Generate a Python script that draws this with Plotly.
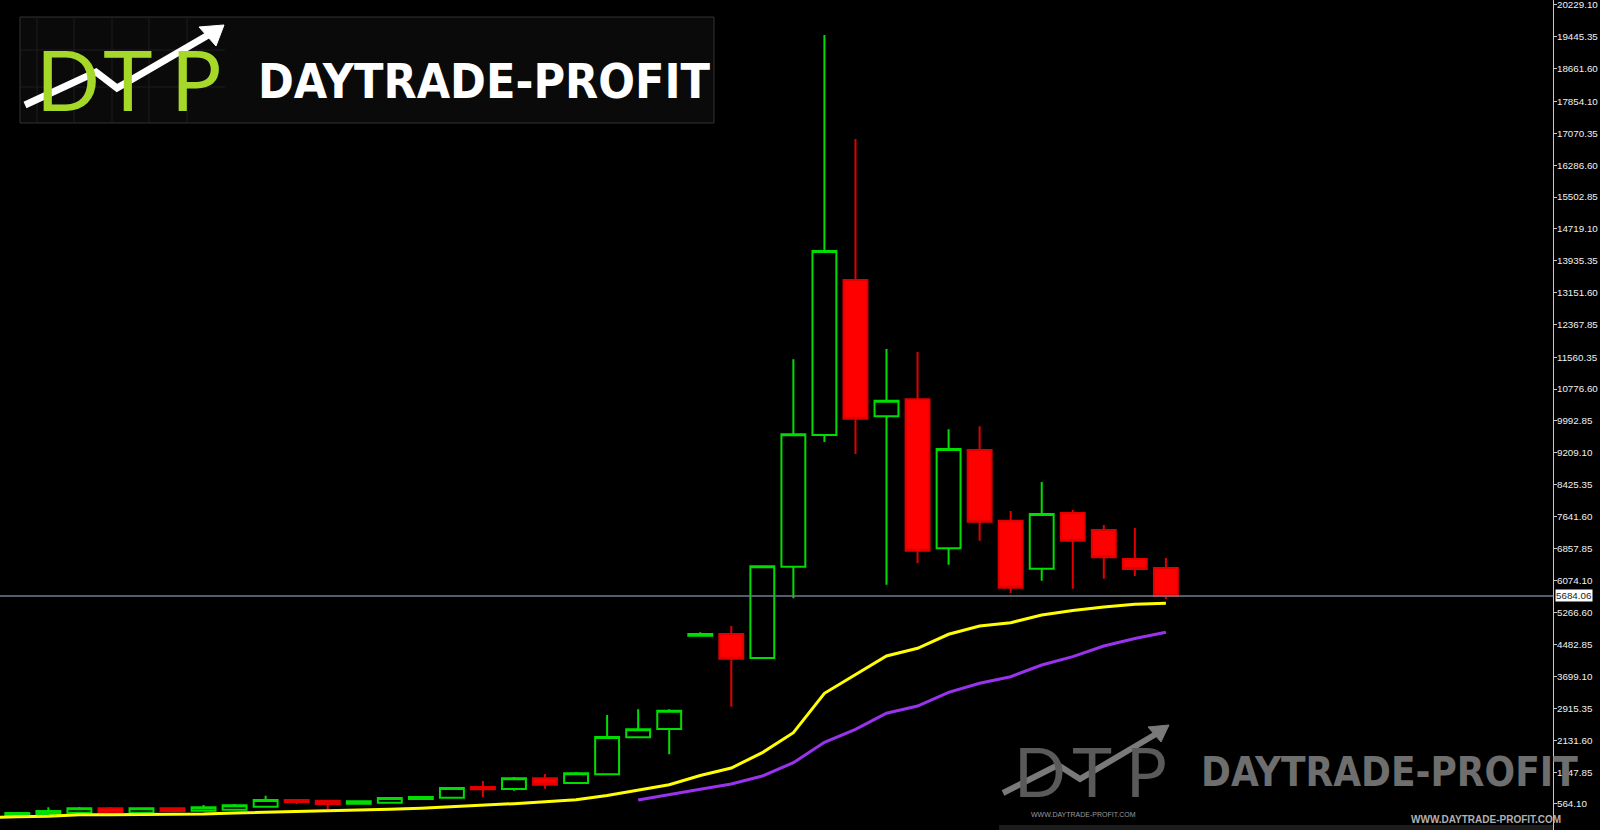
import plotly.graph_objects as go
import pandas as pd

# ---------------- data ----------------
periods = pd.period_range("2015-09", "2018-11", freq="M").strftime("%b %Y").tolist()
candle_months = periods[1:]

opens = [290, 318, 350, 458, 350, 458, 399, 424, 498, 663, 645, 572, 596, 687, 719, 983,
         933, 1197, 1081, 1295, 2206, 2410, 4706, 4748, 4158, 6405, 9646, 13461, 10106,
         10525, 6857, 9277, 7537, 6355, 7726, 7308, 6594, 6373]
highs = [345, 483, 490, 490, 465, 465, 540, 564, 768, 687, 650, 645, 720, 761, 965, 1130,
         1229, 1302, 1352, 2755, 2895, 2895, 4790, 4945, 6439, 11509, 19491, 16931, 11763,
         11689, 9786, 9860, 7776, 8489, 7800, 7431, 7357, 6619]
lows = [282, 286, 318, 345, 345, 390, 395, 420, 490, 564, 441, 568, 590, 663, 715, 736,
        892, 941, 1075, 1290, 2200, 1787, 4682, 2959, 4150, 5627, 9474, 9178, 5962,
        6488, 6454, 7044, 5757, 6060, 5863, 6109, 6176, 5610]
closes = [342, 392, 458, 350, 458, 392, 482, 532, 663, 613, 564, 631, 712, 736, 958, 926,
          1197, 1039, 1320, 2213, 2403, 2860, 4748, 4140, 6414, 9663, 14175, 10047, 10490,
          6798, 9301, 7512, 5888, 7702, 7045, 6636, 6348, 5684.06]

ma_fast = [222, 252, 261, 301, 301, 301, 318, 318, 343, 360, 384, 384, 409, 434, 458, 490,
           540, 572, 621, 670, 773, 896, 1037, 1266, 1450, 1827, 2319, 3289, 3756, 4207,
           4396, 4741, 4945, 5026, 5216, 5327, 5413, 5482, 5504]
ma_slow_months = periods[21:]
ma_slow = [663, 803, 926, 1056, 1253, 1581, 2083, 2403, 2797, 2976, 3313, 3535, 3697,
           3985, 4190, 4453, 4637, 4790]

price_ticks = [564.10, 1347.85, 2131.60, 2915.35, 3699.10, 4482.85, 5266.60, 6074.10,
               6857.85, 7641.60, 8425.35, 9209.10, 9992.85, 10776.60, 11560.35, 12367.85,
               13151.60, 13935.35, 14719.10, 15502.85, 16286.60, 17070.35, 17854.10,
               18661.60, 19445.35, 20229.10]
last_price = 5684.06

# ---------------- figure ----------------
W, H = 1600, 830
MR = 47
PW, PH = W - MR, H


def px(x):
    return x / PW


def py(y):
    return 1 - y / PH


fig = go.Figure()
fig.add_trace(go.Scatter(x=periods, y=ma_fast, mode="lines",
                         line=dict(color="#ffff00", width=3), hoverinfo="skip"))
fig.add_trace(go.Scatter(x=ma_slow_months, y=ma_slow, mode="lines",
                         line=dict(color="#9933ee", width=3), hoverinfo="skip"))
fig.add_trace(go.Candlestick(
    x=candle_months, open=opens, high=highs, low=lows, close=closes,
    increasing=dict(line=dict(color="#00dd00", width=2), fillcolor="rgba(0,0,0,0)"),
    decreasing=dict(line=dict(color="#e00000", width=2), fillcolor="#ff0000"),
    whiskerwidth=0, hoverinfo="skip"))

shapes = []
annotations = []

# current price line + label
shapes.append(dict(type="line", xref="paper", yref="y", x0=0, x1=1,
                   y0=last_price, y1=last_price, line=dict(color="#707d8a", width=1.5)))
annotations.append(dict(xref="paper", yref="y", x=1, y=last_price, xanchor="left",
                        yanchor="middle", xshift=2, text=f"{last_price:.2f}",
                        showarrow=False, bgcolor="#ffffff", borderpad=0,
                        font=dict(family="Liberation Sans", size=9.8, color="#222")))

# ---- top-left logo ----
shapes.append(dict(type="rect", xref="paper", yref="paper", x0=px(20), x1=px(714),
                   y0=py(123), y1=py(17), fillcolor="#0a0a0a",
                   line=dict(color="#333333", width=1), layer="above"))
for gx in [37, 74, 112, 149, 187]:
    shapes.append(dict(type="line", xref="paper", yref="paper", x0=px(gx), x1=px(gx),
                       y0=py(122), y1=py(18), line=dict(color="#1d1d1d", width=1),
                       layer="above"))
for gy in [50, 87]:
    shapes.append(dict(type="line", xref="paper", yref="paper", x0=px(21), x1=px(225),
                       y0=py(gy), y1=py(gy), line=dict(color="#1d1d1d", width=1),
                       layer="above"))

for letter, cx in [("D", 68), ("T", 128), ("P", 196)]:
    annotations.append(dict(xref="paper", yref="paper", x=px(cx), y=py(79),
                            xanchor="center", yanchor="middle", text=letter,
                            showarrow=False,
                            font=dict(family="Lato", size=84, color="#a6d82a")))


def path_of(pts, close=False):
    s = "M " + " L ".join(f"{px(a):.5f},{py(b):.5f}" for a, b in pts)
    return s + (" Z" if close else "")


shapes.append(dict(type="path", xref="paper", yref="paper",
                   path=path_of([(25, 105), (96, 72), (117, 88), (210, 34)]),
                   line=dict(color="#ffffff", width=7), layer="above"))
shapes.append(dict(type="path", xref="paper", yref="paper",
                   path=path_of([(224, 25), (199, 27), (216, 46)], close=True),
                   fillcolor="#ffffff", line=dict(color="#ffffff", width=1), layer="above"))

annotations.append(dict(xref="paper", yref="paper", x=px(256), y=py(81),
                        xanchor="left", yanchor="middle", text="<b>DAYTRADE-PROFIT</b>",
                        showarrow=False,
                        font=dict(family="Liberation Sans Narrow, DejaVu Sans Condensed, Liberation Sans",
                                  size=48, color="#ffffff")))

# ---- bottom-right watermark ----
for letter, cx in [("D", 1040), ("T", 1092), ("P", 1146)]:
    annotations.append(dict(xref="paper", yref="paper", x=px(cx), y=py(770),
                            xanchor="center", yanchor="middle", text=letter,
                            showarrow=False,
                            font=dict(family="Lato", size=68, color="#5a5a5a")))
shapes.append(dict(type="path", xref="paper", yref="paper",
                   path=path_of([(1003, 793), (1058, 765), (1080, 779), (1156, 734)]),
                   line=dict(color="#7a7a7a", width=6), layer="above"))
shapes.append(dict(type="path", xref="paper", yref="paper",
                   path=path_of([(1169, 725), (1148, 727), (1161, 742)], close=True),
                   fillcolor="#7a7a7a", line=dict(color="#7a7a7a", width=1), layer="above"))
annotations.append(dict(xref="paper", yref="paper", x=px(1199), y=py(772),
                        xanchor="left", yanchor="middle", text="<b>DAYTRADE-PROFIT</b>",
                        showarrow=False,
                        font=dict(family="Liberation Sans Narrow, DejaVu Sans Condensed, Liberation Sans",
                                  size=40, color="#6e6e6e")))
annotations.append(dict(xref="paper", yref="paper", x=px(1083), y=py(814),
                        xanchor="center", yanchor="middle", text="WWW.DAYTRADE-PROFIT.COM",
                        showarrow=False,
                        font=dict(family="Liberation Sans Narrow, Liberation Sans", size=7, color="#9a9a9a")))
annotations.append(dict(xref="paper", yref="paper", x=px(1486), y=py(819),
                        xanchor="center", yanchor="middle", text="<b>WWW.DAYTRADE-PROFIT.COM</b>",
                        showarrow=False,
                        font=dict(family="Liberation Sans Narrow, Liberation Sans", size=10, color="#b0b0b0")))
shapes.append(dict(type="rect", xref="paper", yref="paper", x0=px(999), x1=1,
                   y0=0, y1=py(825), fillcolor="#1c1c1c", line=dict(width=0), layer="below"))

fig.update_layout(
    width=W, height=H,
    margin=dict(l=0, r=MR, t=0, b=0),
    paper_bgcolor="#000000", plot_bgcolor="#000000",
    showlegend=False, hovermode=False, boxgap=0.23, boxgroupgap=0,
    shapes=shapes, annotations=annotations,
    xaxis=dict(type="category", categoryorder="array", categoryarray=periods,
               range=[0.443, 50.47], visible=False, rangeslider=dict(visible=False),
               showgrid=False, zeroline=False),
    yaxis=dict(side="right", range=[-76, 20352], tickmode="array",
               tickvals=price_ticks, ticktext=[f"{v:.2f}" for v in price_ticks],
               showgrid=False, zeroline=False, showline=True, linecolor="#c8c8c8",
               linewidth=1, ticks="outside", ticklen=3, tickcolor="#c8c8c8",
               ticklabelstandoff=-2, ticklabeloverflow="allow",
               tickfont=dict(family="Liberation Sans", size=9.8, color="#f0f0f0"),
               automargin=False),
)

fig.write_html("out.html", config={"displayModeBar": False},
               post_script="document.body.style.margin='0';document.body.style.background='#000';")
